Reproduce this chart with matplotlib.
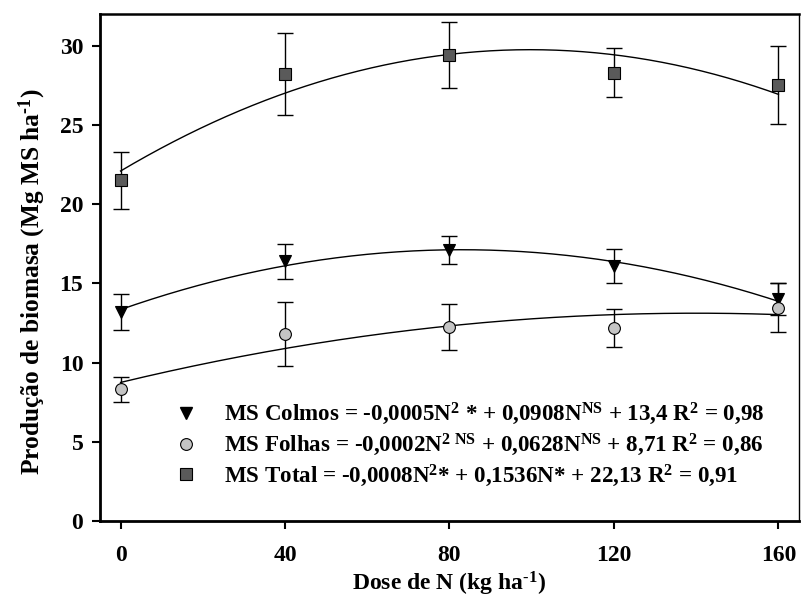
import numpy as np
import matplotlib
matplotlib.use("Agg")
import matplotlib.pyplot as plt
from matplotlib.lines import Line2D

plt.rcParams['font.family'] = ['Liberation Serif', 'DejaVu Serif']
plt.rcParams['font.weight'] = 'bold'
plt.rcParams['mathtext.fontset'] = 'custom'
plt.rcParams['mathtext.rm'] = 'Liberation Serif:bold'
plt.rcParams['mathtext.it'] = 'Liberation Serif:bold'
plt.rcParams['mathtext.bf'] = 'Liberation Serif:bold'
plt.rcParams['mathtext.default'] = 'rm'

# ---- data ----
dose = [0, 40, 80, 120, 160]
colmos = [13.2, 16.4, 17.1, 16.1, 14.0]
colmos_err = [1.15, 1.1, 0.9, 1.05, 1.0]
folhas = [8.3, 11.8, 12.25, 12.2, 13.45]
folhas_err = [0.8, 2.0, 1.45, 1.2, 1.55]
total = [21.5, 28.2, 29.4, 28.3, 27.5]
total_err = [1.8, 2.6, 2.1, 1.55, 2.45]

xticks = [0, 40, 80, 120, 160]
yticks = [0, 5, 10, 15, 20, 25, 30]

lab_colmos = r'MS Colmos = -0,0005N$^{2}$ * + 0,0908N$^{\mathrm{NS}}$ + 13,4 R$^{2}$ = 0,98'
lab_folhas = r'MS Folhas = -0,0002N$^{2\ \mathrm{NS}}$ + 0,0628N$^{\mathrm{NS}}$ + 8,71 R$^{2}$ = 0,86'
lab_total = r'MS Total = -0,0008N$^{2}$* + 0,1536N* + 22,13 R$^{2}$ = 0,91'

fig = plt.figure(figsize=(8.01, 6.0), dpi=100)
ax = fig.add_axes([100/801, 79/600, 699/801, 507/600])

xs = np.linspace(0, 160, 300)
series = [
    (colmos, colmos_err, 'v', 'black', 8.5),
    (folhas, folhas_err, 'o', '#c4c4c4', 8.5),
    (total, total_err, 's', '#5a5a5a', 8),
]
for vals, err, mk, fc, ms in series:
    coef = np.polyfit(dose, vals, 2)
    ax.plot(xs, np.polyval(coef, xs), color='black', lw=1.0, zorder=2)
    ax.errorbar(dose, vals, yerr=err, fmt='none', ecolor='black', elinewidth=1.0,
                capsize=5.5, capthick=1.0, zorder=3)
    ax.plot(dose, vals, linestyle='none', marker=mk, markersize=ms,
            markerfacecolor=fc, markeredgecolor='black', markeredgewidth=0.8, zorder=4)

handles = [
    Line2D([], [], linestyle='none', marker='v', markersize=8.5, markerfacecolor='black', markeredgecolor='black'),
    Line2D([], [], linestyle='none', marker='o', markersize=8.5, markerfacecolor='#c4c4c4', markeredgecolor='black', markeredgewidth=0.8),
    Line2D([], [], linestyle='none', marker='s', markersize=8, markerfacecolor='#5a5a5a', markeredgecolor='black', markeredgewidth=0.8),
]
leg = ax.legend(handles, [lab_colmos, lab_folhas, lab_total], loc='upper left',
                bbox_to_anchor=(74/699, (521-401)/507), frameon=False,
                fontsize=16.6, handlelength=1.0, handletextpad=1.15,
                labelspacing=0.2, borderpad=0, borderaxespad=0)

ax.set_xlim(-5, 165)
ax.set_ylim(0, 32)
ax.set_xticks(xticks)
ax.set_yticks(yticks)
ax.tick_params(axis='both', direction='out', length=6, width=1.5, labelsize=17)
ax.tick_params(axis='x', pad=11)
ax.tick_params(axis='y', pad=6)
for lbl in ax.get_xticklabels() + ax.get_yticklabels():
    lbl.set_fontweight('bold')

for side, lw in [('left', 2.0), ('bottom', 2.0), ('top', 1.8), ('right', 1.0)]:
    ax.spines[side].set_linewidth(lw)

ax.set_xlabel(r'Dose de N (kg ha$^{\text{-1}}$)', fontsize=17, fontweight='bold', labelpad=3)
ax.set_ylabel(r'Produção de biomasa (Mg MS ha$^{\text{-1}}$)', fontsize=18.3, fontweight='bold')
ax.yaxis.set_label_coords(-0.075, 0.472)

fig.savefig('out.png', dpi=100)
